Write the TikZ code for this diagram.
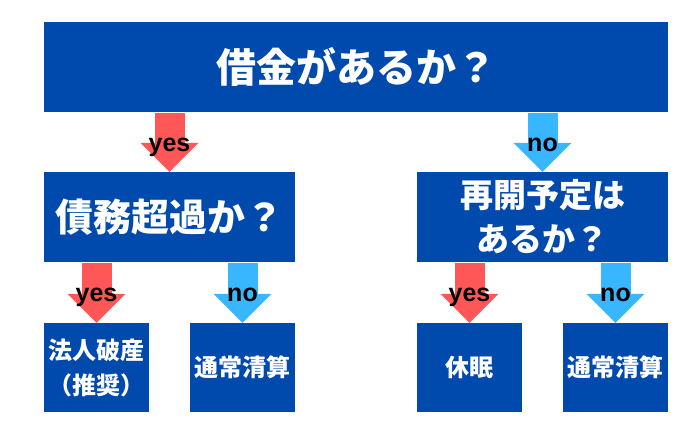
\documentclass[tikz,border=0pt]{standalone}
\usepackage{fontspec}
\setmainfont{Liberation Sans}
\newfontfamily\jpfont{Noto Sans CJK JP}
\definecolor{boxblue}{RGB}{0,74,173}
\definecolor{yesred}{RGB}{255,87,87}
\definecolor{noblue}{RGB}{56,182,255}
\usetikzlibrary{arrows.meta}
\tikzstyle{question}=[rectangle,fill=boxblue,text=white,inner sep=0pt,align=center,font=\jpfont\bfseries]
\tikzstyle{arrowedge}=[line width=30pt,shorten <=1pt,-{Triangle[width=58pt,length=29pt,line width=0pt]}]
\tikzstyle{yesedge}=[arrowedge,draw=yesred]
\tikzstyle{noedge}=[arrowedge,draw=noblue]
\tikzstyle{answer}=[anchor=base,inner sep=0pt,font=\bfseries\fontsize{25}{25}\selectfont]

\begin{document}
\begin{tikzpicture}[x=1pt,y=-1pt]

            \useasboundingbox (0,0) rectangle (700,438);

            \node[question,minimum width=624pt,minimum height=90pt,font=\jpfont\bfseries\fontsize{40}{40}\selectfont] (top) at (356,67) {借金があるか？};
            \node[question,minimum width=251pt,minimum height=90pt,font=\jpfont\bfseries\fontsize{38}{38}\selectfont] (debt) at (169.5,217) {債務超過か？};
            \node[question,minimum width=251pt,minimum height=90pt,font=\jpfont\bfseries\fontsize{33}{44}\selectfont] (reopen) at (542.5,217) {再開予定は\\あるか？};
            \node[question,minimum width=105pt,minimum height=89pt,font=\jpfont\bfseries\fontsize{24}{35}\selectfont] (bankrupt) at (96.5,367.5) {法人破産\\（推奨）};
            \node[question,minimum width=105pt,minimum height=89pt,font=\jpfont\bfseries\fontsize{24}{24}\selectfont] (liq1) at (242.5,367.5) {通常清算};
            \node[question,minimum width=105pt,minimum height=89pt,font=\jpfont\bfseries\fontsize{24}{24}\selectfont] (dormant) at (469.5,367.5) {休眠};
            \node[question,minimum width=105pt,minimum height=89pt,font=\jpfont\bfseries\fontsize{24}{24}\selectfont] (liq2) at (615.5,367.5) {通常清算};

            \path[yesedge] (top.south -| debt.north) -- (debt.north);
            \path[noedge] (top.south -| reopen.north) -- (reopen.north);
            \path[yesedge] (debt.south -| bankrupt.north) -- (bankrupt.north);
            \path[noedge] (debt.south -| liq1.north) -- (liq1.north);
            \path[yesedge] (reopen.south -| dormant.north) -- (dormant.north);
            \path[noedge] (reopen.south -| liq2.north) -- (liq2.north);

            \node[answer] (y1) at ([yshift=20pt]debt.north) {yes};
            \node[answer] (n1) at ([yshift=20pt]reopen.north) {no};
            \node[answer] (y2) at ([yshift=21pt]bankrupt.north) {yes};
            \node[answer] (n2) at ([yshift=21pt]liq1.north) {no};
            \node[answer] (y3) at ([yshift=21pt]dormant.north) {yes};
            \node[answer] (n3) at ([yshift=21pt]liq2.north) {no};

        \end{tikzpicture}
\end{document}
